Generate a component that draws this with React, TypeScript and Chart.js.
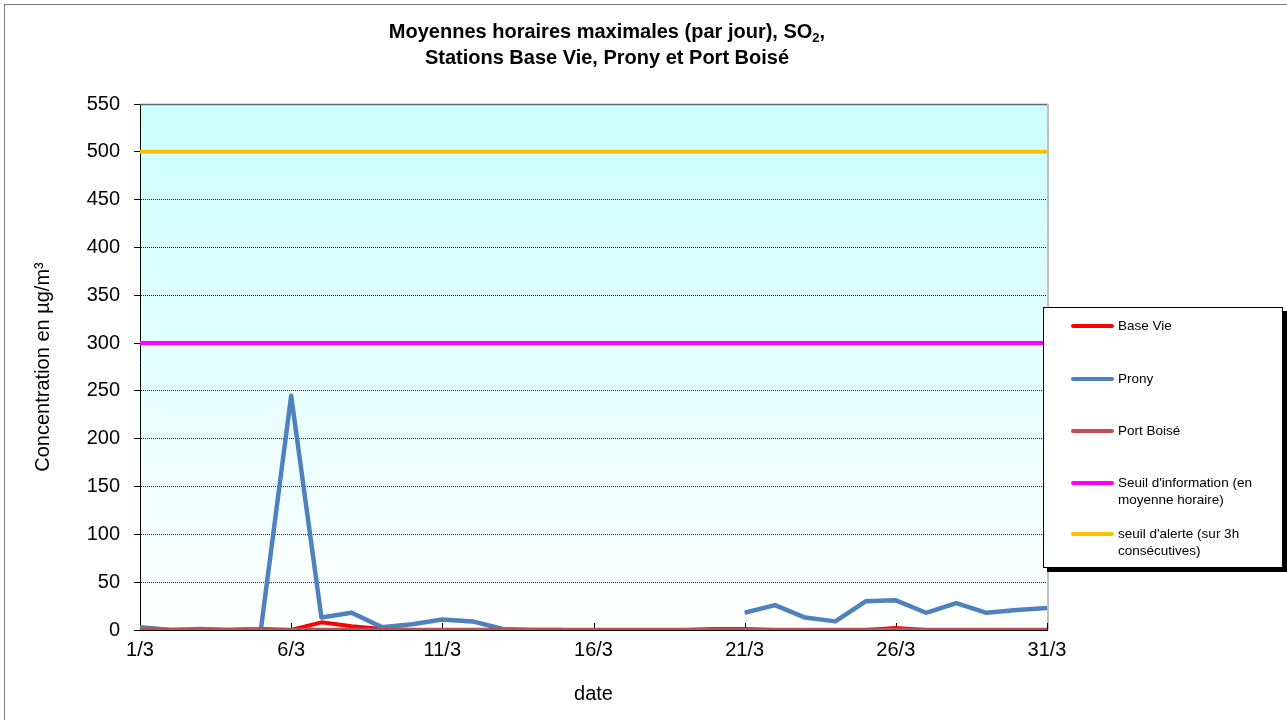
import React, { useEffect, useRef } from "react";
import { Chart, registerables } from "chart.js";

Chart.register(...registerables);

const days: string[] = [
  "1/3","2/3","3/3","4/3","5/3","6/3","7/3","8/3","9/3","10/3",
  "11/3","12/3","13/3","14/3","15/3","16/3","17/3","18/3","19/3","20/3",
  "21/3","22/3","23/3","24/3","25/3","26/3","27/3","28/3","29/3","30/3","31/3",
];

const baseVie: (number | null)[] = [
  2, 0, 0, 0, 1, 0, 8, 4, 1, 0,
  0, 0, 0, 0, 0, 0, 0, 0, 0, 1,
  1, 0, 0, 0, 0, 2, 0, 0, 0, 0, 0,
];

const prony: (number | null)[] = [
  3, 0, 1, 0, 1, 245, 13, 18, 3, 6,
  11, 9, 1, 0, 0, null, null, null, null, null,
  18, 26, 13, 9, 30, 31, 18, 28, 18, 21, 23,
];

const portBoise: (number | null)[] = [
  0, 0, 0, 0, 0, 0, 0, 0, 0, 0,
  0, 0, 0, 0, 0, 0, 0, 0, 0, 0,
  0, 0, 0, 0, 0, 0, 0, 0, 0, 0, 0,
];

const seuilInfo: number[] = days.map(() => 300);
const seuilAlerte: number[] = days.map(() => 500);

const seriesLabels: string[] = [
  "Base Vie",
  "Prony",
  "Port Boisé",
  "Seuil d'information (en moyenne horaire)",
  "seuil d'alerte (sur 3h consécutives)",
];
const seriesColors: string[] = ["#FF0000", "#4F81BD", "#C0504D", "#FF00FF", "#FFC000"];

const titleLine1 = "Moyennes horaires maximales (par jour), SO";
const titleLine2 = "Stations Base Vie, Prony et Port Boisé";
const yTitle = "Concentration en µg/m³";
const xTitle = "date";

const FONT = "'Liberation Sans', Arial, Helvetica, sans-serif";

const framePlugin = {
  id: "framePlugin",
  beforeDraw(chart: any) {
    const { ctx, chartArea } = chart;
    ctx.save();
    ctx.fillStyle = "#ffffff";
    ctx.fillRect(0, 0, chart.width, chart.height);
    ctx.strokeStyle = "#808080";
    ctx.lineWidth = 1;
    ctx.strokeRect(4.5, 4.5, chart.width + 20, chart.height + 20);
    const g = ctx.createLinearGradient(0, chartArea.top, 0, chartArea.bottom);
    g.addColorStop(0, "#CCFFFF");
    g.addColorStop(1, "#FFFFFF");
    ctx.fillStyle = g;
    ctx.fillRect(chartArea.left, chartArea.top, chartArea.right - chartArea.left, chartArea.bottom - chartArea.top);
    ctx.restore();
  },
  beforeDatasetsDraw(chart: any) {
    const { ctx, chartArea, scales } = chart;
    ctx.save();
    ctx.strokeStyle = "#666666";
    ctx.lineWidth = 1.5;
    ctx.beginPath();
    ctx.moveTo(chartArea.left, chartArea.top + 0.5);
    ctx.lineTo(chartArea.right + 1, chartArea.top + 0.5);
    ctx.stroke();
    ctx.strokeStyle = "#C0C0C0";
    ctx.lineWidth = 2;
    ctx.beginPath();
    ctx.moveTo(chartArea.right + 1, chartArea.top);
    ctx.lineTo(chartArea.right + 1, chartArea.bottom);
    ctx.stroke();
    const xs = scales.x;
    ctx.strokeStyle = "#000000";
    ctx.lineWidth = 1;
    for (let i = 0; i < days.length; i += 5) {
      const px = Math.round(xs.getPixelForValue(i)) + 0.5;
      ctx.beginPath();
      ctx.moveTo(px, chartArea.bottom);
      ctx.lineTo(px, chartArea.bottom - 7);
      ctx.stroke();
    }
    ctx.restore();
  },
};

export default function App() {
  const ref = useRef<HTMLCanvasElement | null>(null);

  useEffect(() => {
    if (!ref.current) return;
    const values = [baseVie, prony, portBoise, seuilInfo, seuilAlerte];
    const widths = [4, 4.5, 4.5, 4, 4];
    const orders = [2, 1, 0, 3, 4];
    const chart = new Chart(ref.current, {
      type: "line",
      data: {
        labels: days,
        datasets: values.map((v, i) => ({
          label: seriesLabels[i],
          data: v,
          borderColor: seriesColors[i],
          backgroundColor: seriesColors[i],
          borderWidth: widths[i],
          borderJoinStyle: "round",
          pointRadius: 0,
          pointHoverRadius: 0,
          tension: 0,
          spanGaps: false,
          fill: false,
          order: orders[i],
        })),
      },
      plugins: [framePlugin],
      options: {
        animation: false,
        responsive: false,
        devicePixelRatio: 1,
        events: [],
        layout: { padding: { left: 0, top: 104, right: 240, bottom: 0 } },
        plugins: {
          legend: { display: false },
          title: { display: false },
          tooltip: { enabled: false },
        },
        scales: {
          x: {
            type: "category",
            offset: false,
            afterFit: (s: any) => { s.height = 90; },
            grid: { display: true, drawOnChartArea: false, drawTicks: false },
            border: { display: true, color: "#000000", width: 1 },
            ticks: {
              autoSkip: false,
              maxRotation: 0,
              minRotation: 0,
              padding: 8,
              color: "#000000",
              font: { family: FONT, size: 20 },
              callback: (_v: any, i: number) => (i % 5 === 0 ? days[i] : null),
            },
            title: {
              display: true,
              text: xTitle,
              color: "#000000",
              font: { family: FONT, size: 20 },
              padding: { top: 0, bottom: 14 },
            },
          },
          y: {
            min: 0,
            max: 550,
            afterFit: (s: any) => { s.width = 140; },
            grid: {
              color: (c: any) => (c.tick && (c.tick.value === 0 || c.tick.value === 550) ? "rgba(0,0,0,0)" : "#222222"),
              lineWidth: 1,
              drawTicks: true,
              tickLength: 6,
              tickColor: "#000000",
              tickBorderDash: [],
              tickWidth: 1,
            },
            border: { display: true, color: "#000000", width: 1, dash: [1, 1] },
            ticks: {
              stepSize: 50,
              padding: 14,
              color: "#000000",
              font: { family: FONT, size: 20 },
            },
            title: {
              display: true,
              text: yTitle,
              color: "#000000",
              font: { family: FONT, size: 20 },
              padding: { top: 31, bottom: 0 },
            },
          },
        },
      } as any,
    });
    return () => chart.destroy();
  }, []);

  const legendTops = [18, 71, 123, 175, 226];

  return (
    <div style={{ position: "fixed", left: 0, top: 0, width: 1287, height: 720, background: "#fff", overflow: "hidden" }}>
      <canvas ref={ref} width={1287} height={720} style={{ display: "block", width: 1287, height: 720 }} />
      <div
        style={{
          position: "absolute",
          left: 607,
          top: 18,
          transform: "translateX(-50%)",
          fontFamily: FONT,
          fontWeight: "bold",
          fontSize: 20,
          lineHeight: "26px",
          textAlign: "center",
          whiteSpace: "nowrap",
          color: "#000",
        }}
      >
        <div>
          {titleLine1}
          <sub style={{ fontSize: 13, verticalAlign: "-4px", lineHeight: 0 }}>2</sub>,
        </div>
        <div>{titleLine2}</div>
      </div>
      <div
        style={{
          position: "absolute",
          left: 1043,
          top: 307,
          width: 238,
          height: 259,
          background: "#fff",
          border: "1px solid #000",
          boxShadow: "4px 4px 0 #000",
          fontFamily: FONT,
          fontSize: 13.5,
          color: "#000",
        }}
      >
        {seriesLabels.map((lab, i) => (
          <div key={lab}>
            <div
              style={{
                position: "absolute",
                left: 27,
                top: legendTops[i] - 2,
                width: 43,
                height: 4,
                borderRadius: 2,
                background: seriesColors[i],
              }}
            />
            <div
              style={{
                position: "absolute",
                left: 74,
                top: legendTops[i] - 9,
                width: 150,
                lineHeight: "17px",
              }}
            >
              {lab}
            </div>
          </div>
        ))}
      </div>
    </div>
  );
}
